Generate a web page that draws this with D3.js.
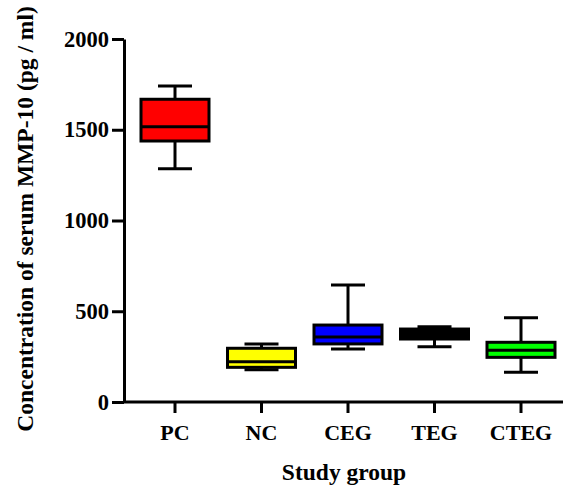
<!DOCTYPE html>
<html><head><meta charset="utf-8">
<script src="https://cdn.jsdelivr.net/npm/d3@7"></script>
<style>body{margin:0;background:#fff}</style>
</head><body>
<svg id="c" width="566" height="490"></svg>
<script>
const categories = ["PC","NC","CEG","TEG","CTEG"];
const whiskerLow  = [1285, 178, 292, 305, 164];
const q1          = [1438, 191, 320, 347, 246];
const median      = [1517, 222, 358, 375, 285];
const q3          = [1668, 296, 424, 402, 329];
const whiskerHigh = [1741, 320, 645, 415, 464];
const colors = ["#ff0000","#ffff00","#0000ff","#000000","#00ff00"];
const yTicks = [0, 500, 1000, 1500, 2000];

const svg = d3.select("#c");
const font = "'Liberation Serif','Times New Roman',serif";
const y = d3.scaleLinear().domain([0, 2000]).range([402, 39]);
const x = d3.scalePoint().domain(categories).range([175, 521]);
const boxW = 68, capW = 34, sw = 3;

// y axis
const ya = svg.append("g").attr("transform","translate(124,0)")
  .call(d3.axisLeft(y).tickValues(yTicks).tickSize(12).tickSizeOuter(0).tickPadding(3).tickFormat(d3.format("d")));
ya.select(".domain").attr("stroke-width", sw);
ya.selectAll(".tick line").attr("stroke-width", sw);
ya.selectAll("text").attr("font-family", font).attr("font-weight","bold").attr("font-size", 22.5);

// x axis
const xa = svg.append("g").attr("transform","translate(0,402)");
xa.append("line").attr("x1",124).attr("x2",563).attr("stroke","#000").attr("stroke-width",sw);
xa.call(g => {
  const t = g.selectAll(".xt").data(categories).enter().append("g").attr("transform", d=>`translate(${x(d)},0)`);
  t.append("line").attr("y1",0).attr("y2",11).attr("stroke","#000").attr("stroke-width",sw);
  t.append("text").attr("y",38).attr("text-anchor","middle").attr("font-family",font)
   .attr("font-weight","bold").attr("font-size",22).text(d=>d);
});

// boxes
const data = categories.map((c,i)=>({c, lo:whiskerLow[i], q1:q1[i], med:median[i], q3:q3[i], hi:whiskerHigh[i], col:colors[i]}));
const b = svg.append("g").selectAll("g").data(data).enter().append("g");
b.append("line").attr("x1",d=>x(d.c)).attr("x2",d=>x(d.c)).attr("y1",d=>y(d.hi)).attr("y2",d=>y(d.q3)).attr("stroke","#000").attr("stroke-width",sw);
b.append("line").attr("x1",d=>x(d.c)).attr("x2",d=>x(d.c)).attr("y1",d=>y(d.q1)).attr("y2",d=>y(d.lo)).attr("stroke","#000").attr("stroke-width",sw);
b.append("line").attr("x1",d=>x(d.c)-capW/2).attr("x2",d=>x(d.c)+capW/2).attr("y1",d=>y(d.hi)).attr("y2",d=>y(d.hi)).attr("stroke","#000").attr("stroke-width",sw);
b.append("line").attr("x1",d=>x(d.c)-capW/2).attr("x2",d=>x(d.c)+capW/2).attr("y1",d=>y(d.lo)).attr("y2",d=>y(d.lo)).attr("stroke","#000").attr("stroke-width",sw);
b.append("rect").attr("x",d=>x(d.c)-boxW/2).attr("width",boxW).attr("y",d=>y(d.q3)).attr("height",d=>y(d.q1)-y(d.q3))
  .attr("fill",d=>d.col).attr("stroke","#000").attr("stroke-width",sw);
b.append("line").attr("x1",d=>x(d.c)-boxW/2).attr("x2",d=>x(d.c)+boxW/2).attr("y1",d=>y(d.med)).attr("y2",d=>y(d.med)).attr("stroke","#000").attr("stroke-width",sw);

// titles
svg.append("text").attr("x",344).attr("y",480).attr("text-anchor","middle").attr("font-family",font)
  .attr("font-weight","bold").attr("font-size",23.5).text("Study group");
svg.append("text").attr("transform","translate(33,219) rotate(-90)").attr("text-anchor","middle").attr("font-family",font)
  .attr("font-weight","bold").attr("font-size",23.5).text("Concentration of serum MMP-10 (pg / ml)");
</script>
</body></html>
